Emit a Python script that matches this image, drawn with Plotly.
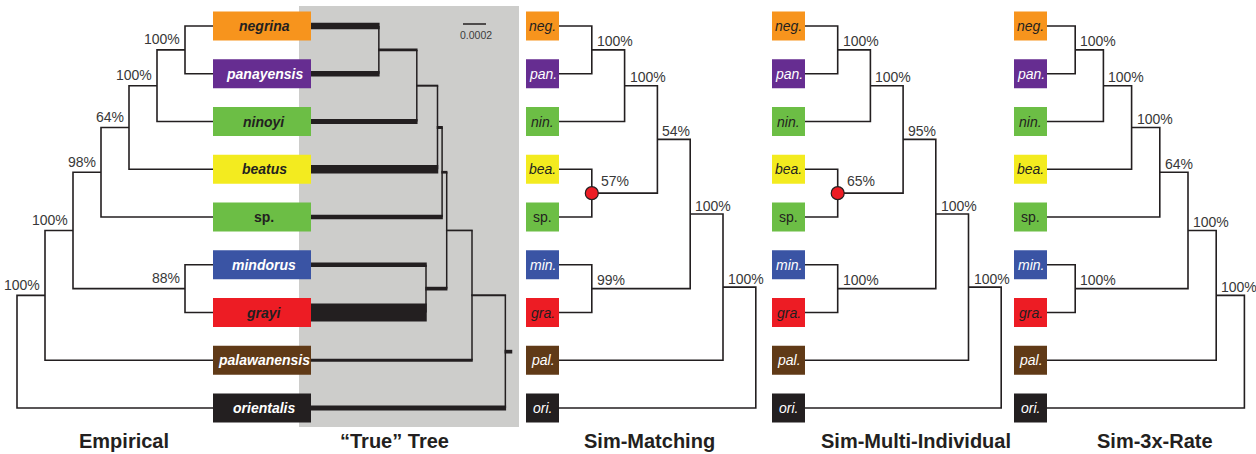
import plotly.graph_objects as go

# ------------------------------------------------------------------ data
taxa_full = ["negrina", "panayensis", "ninoyi", "beatus", "sp.",
             "mindorus", "grayi", "palawanensis", "orientalis"]
taxa_abbr = ["neg.", "pan.", "nin.", "bea.", "sp.", "min.", "gra.", "pal.", "ori."]
taxa_italic = [True, True, True, True, False, True, True, True, True]
taxa_fill = ["#F7941D", "#662D91", "#6CBE45", "#F3EB1F", "#6CBE45",
             "#3A54A4", "#ED1C24", "#603A17", "#231F20"]
taxa_text = ["#231F20", "#FFFFFF", "#231F20", "#231F20", "#231F20",
             "#FFFFFF", "#231F20", "#FFFFFF", "#FFFFFF"]

# topologies (leaf indices into taxa lists)
topo_empirical = (((((((0, 1), 2), 3), 4), (5, 6)), 7), 8)
topo_sim = ((((((0, 1), 2), (3, 4)), (5, 6)), 7), 8)

# bootstrap support, internal nodes in post-order (root last, no value)
support_empirical = [100, 100, 64, 98, 88, 100, 100, None]
support_sim_matching = [100, 100, 57, 54, 99, 100, 100, None]
support_sim_multi = [100, 100, 65, 95, 100, 100, 100, None]
support_sim_3x = [100, 100, 100, 64, 100, 100, 100, None]
highlight_sim = [False, False, True, False, False, False, False, False]

# "True" tree: node ages (subst./site), post-order, and branch thetas
true_node_age = [0.00059, 0.00092, 0.00110, 0.00114, 0.00100, 0.00118, 0.00140, 0.00169]
true_root_stem = 0.00006
true_leaf_theta = [6.5, 5.7, 5.0, 8.3, 4.3, 4.7, 18.0, 3.0, 5.0]
true_node_theta = [2.7, 2.0, 3.0, 2.7, 3.7, 1.7, 2.0, 3.7]
scale_bar_value = 0.0002
scale_bar_label = "0.0002"

panel_titles = ["Empirical", "\u201cTrue\u201d Tree", "Sim-Matching",
                "Sim-Multi-Individual", "Sim-3x-Rate"]

# ------------------------------------------------------------------ layout constants
W, H = 1256, 454
ROW0, ROWD = 26.0, 47.75
BOX_H = 29
LINE = "#231F20"
SUPPORT_COL = "#383838"
FONT = "Liberation Sans, Arial, sans-serif"

ROW_Y = [ROW0 + ROWD * i for i in range(len(taxa_full))]

fig = go.Figure()
shapes = []
annots = []


def walk(node, out):
    if isinstance(node, int):
        return {"leaf": node, "h": 0, "y": ROW_Y[node]}
    kids = [walk(c, out) for c in node]
    rec = {"kids": kids, "h": 1 + max(k["h"] for k in kids),
           "y": sum(k["y"] for k in kids) / 2.0}
    out.append(rec)
    return rec


def add_box(x0, x1, y, color):
    shapes.append(dict(type="rect", xref="x", yref="y", x0=x0, x1=x1,
                       y0=y - BOX_H / 2, y1=y + BOX_H / 2,
                       fillcolor=color, line=dict(width=0), layer="above"))


def cladogram(topo, support, xfun, label_side, highlight=None):
    nodes = []
    walk(topo, nodes)

    def nx(n):
        return xfun(n["h"])

    xs, ys = [], []
    for n in nodes:
        c1, c2 = n["kids"]
        xn = nx(n)
        xs += [nx(c1), xn, xn, nx(c2), None]
        ys += [c1["y"], c1["y"], c2["y"], c2["y"], None]
    fig.add_trace(go.Scatter(x=xs, y=ys, mode="lines",
                             line=dict(color=LINE, width=1.6),
                             hoverinfo="skip"))
    for i, n in enumerate(nodes):
        s = support[i]
        hl = highlight[i] if highlight else False
        if hl:
            fig.add_trace(go.Scatter(x=[nx(n)], y=[n["y"]], mode="markers",
                                     marker=dict(size=13, color="#ED1C24",
                                                 line=dict(color=LINE, width=1.2)),
                                     hoverinfo="skip"))
        if s is None:
            continue
        if label_side == "left":
            annots.append(dict(x=nx(n) - 3, y=n["y"] - 10.5, text=f"{s}%",
                               xanchor="right", yanchor="middle", showarrow=False,
                               font=dict(family=FONT, size=14, color=SUPPORT_COL)))
        else:
            dx, dy = (7, 12.5) if hl else (3, 8.5)
            annots.append(dict(x=nx(n) + dx, y=n["y"] - dy, text=f"{s}%",
                               xanchor="left", yanchor="middle", showarrow=False,
                               font=dict(family=FONT, size=14, color=SUPPORT_COL)))


# ---- true tree background
TRUE_X0, TRUE_X1 = 299, 519
shapes.append(dict(type="rect", xref="x", yref="y", x0=TRUE_X0, x1=TRUE_X1,
                   y0=6, y1=427, fillcolor="#CDCDCB", line=dict(width=0), layer="below"))

# ---- empirical panel
EMP_BOX0, EMP_BOX1 = 213, 311
cladogram(topo_empirical, support_empirical, lambda h: EMP_BOX0 - 28.0 * h, "left")
for i, name in enumerate(taxa_full):
    add_box(EMP_BOX0, EMP_BOX1, ROW_Y[i], taxa_fill[i])
    t = f"<b><i>{name}</i></b>" if taxa_italic[i] else f"<b>{name}</b>"
    annots.append(dict(x=(EMP_BOX0 + EMP_BOX1) / 2 + 2, y=ROW_Y[i], text=t,
                       showarrow=False, xanchor="center", yanchor="middle",
                       font=dict(family=FONT, size=14, color=taxa_text[i])))

# ---- true tree (phylogram with branch widths)
TREE_X0 = EMP_BOX1
PX_PER_UNIT = 115000.0
true_nodes = []
walk(topo_empirical, true_nodes)
for i, n in enumerate(true_nodes):
    n["age"] = true_node_age[i]
    n["theta"] = true_node_theta[i]


def tx(n):
    return TREE_X0 + PX_PER_UNIT * (n["age"] if "kids" in n else 0.0)


def theta(n):
    return n["theta"] if "kids" in n else true_leaf_theta[n["leaf"]]


for n in true_nodes:
    xn = tx(n)
    for c in n["kids"]:
        w = theta(c)
        shapes.append(dict(type="rect", xref="x", yref="y",
                           x0=tx(c) - (0.75 if "kids" in c else 0), x1=xn + 0.75,
                           y0=c["y"] - w / 2, y1=c["y"] + w / 2,
                           fillcolor=LINE, line=dict(width=0), layer="above"))
    c1, c2 = n["kids"]
    shapes.append(dict(type="line", xref="x", yref="y", x0=xn, x1=xn,
                       y0=c1["y"], y1=c2["y"], line=dict(color=LINE, width=1.5),
                       layer="above"))
root = true_nodes[-1]
rw = true_node_theta[-1]
shapes.append(dict(type="rect", xref="x", yref="y", x0=tx(root) - 0.75,
                   x1=tx(root) + PX_PER_UNIT * true_root_stem,
                   y0=root["y"] - rw / 2, y1=root["y"] + rw / 2,
                   fillcolor=LINE, line=dict(width=0), layer="above"))
# scale bar
SB_X, SB_Y = 463, 24
shapes.append(dict(type="line", xref="x", yref="y", x0=SB_X,
                   x1=SB_X + PX_PER_UNIT * scale_bar_value, y0=SB_Y, y1=SB_Y,
                   line=dict(color=LINE, width=1.5), layer="above"))
annots.append(dict(x=SB_X + PX_PER_UNIT * scale_bar_value / 2 + 1, y=SB_Y + 11,
                   text=scale_bar_label, showarrow=False, xanchor="center",
                   yanchor="middle", font=dict(family=FONT, size=10.5, color="#3C3C3C")))

# ---- simulated panels
sim_panels = [
    (526, 32.8, support_sim_matching, topo_sim, highlight_sim),
    (772, 32.7, support_sim_multi, topo_sim, highlight_sim),
    (1014, 28.2, support_sim_3x, topo_empirical, None),
]
for box0, step, sup, topo, hl in sim_panels:
    box1 = box0 + 33
    cladogram(topo, sup, lambda h, b=box1, s=step: b + s * h, "right", hl)
    for i, ab in enumerate(taxa_abbr):
        add_box(box0, box1, ROW_Y[i], taxa_fill[i])
        t = f"<i>{ab}</i>" if taxa_italic[i] else ab
        annots.append(dict(x=(box0 + box1) / 2, y=ROW_Y[i], text=t,
                           showarrow=False, xanchor="center", yanchor="middle",
                           font=dict(family=FONT, size=14, color=taxa_text[i])))

# ---- titles
title_x = [124, 394, 649, 916, 1155]
for tx_, title in zip(title_x, panel_titles):
    annots.append(dict(x=tx_, y=441, text=f"<b>{title}</b>", showarrow=False,
                       xanchor="center", yanchor="middle",
                       font=dict(family=FONT, size=20, color=LINE)))

fig.update_layout(
    width=W, height=H, margin=dict(l=0, r=0, t=0, b=0),
    paper_bgcolor="white", plot_bgcolor="white", showlegend=False,
    xaxis=dict(range=[0, W], visible=False, fixedrange=True),
    yaxis=dict(range=[H, 0], visible=False, fixedrange=True),
    shapes=shapes, annotations=annots,
)
fig.write_html("out.html", config={"displayModeBar": False},
               post_script="document.body.style.margin='0';document.body.style.overflow='hidden';")
